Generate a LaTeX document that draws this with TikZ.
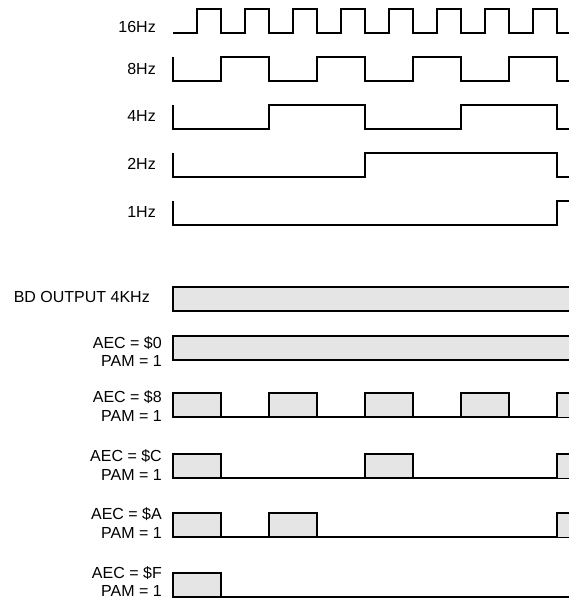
\documentclass[tikz,border=0pt]{standalone}
\usepackage{fontspec}
\setmainfont{Liberation Sans}
\definecolor{pulsefill}{RGB}{229,229,229}
\begin{document}
\begin{tikzpicture}[x=1pt,y=-1pt,
  wave/.style={line width=1.6pt,black,line join=miter},
  pulse/.style={line width=1.6pt,black,fill=pulsefill},
  sig/.style={inner sep=0pt,anchor=east,font=\fontsize{16}{18.5}\selectfont},
  cond/.style={inner sep=0pt,anchor=east,align=right,font=\fontsize{16}{18.5}\selectfont}]
\useasboundingbox (0,0) rectangle (569,600);
\begin{scope}
\clip (0,0) rectangle (569,600);
% ---- clock signals ----
\node[sig] (l16) at (156,26.5) {16Hz};
\node[sig] (l8) at (156,69) {8Hz};
\node[sig] (l4) at (156,116) {4Hz};
\node[sig] (l2) at (156,164) {2Hz};
\node[sig] (l1) at (156,212) {1Hz};
\draw[wave] (173,33) foreach \i in {1,...,8} { -- ++(24,0) -- ++(0,-24) -- ++(24,0) -- ++(0,24) } -- (570,33);
\draw[wave] (173,57) -- (173,81) foreach \i in {1,...,4} { -- ++(48,0) -- ++(0,-24) -- ++(48,0) -- ++(0,24) } -- (570,81);
\draw[wave] (173,105) -- (173,129) foreach \i in {1,2} { -- ++(96,0) -- ++(0,-24) -- ++(96,0) -- ++(0,24) } -- (570,129);
\draw[wave] (173,153) -- (173,177) -- ++(192,0) -- ++(0,-24) -- ++(192,0) -- ++(0,24) -- (570,177);
\draw[wave] (173,201) -- (173,225) -- (557,225) -- (557,201) -- (570,201);
% ---- BD output ----
\node[sig] (lbd) at (150,297) {BD OUTPUT 4KHz};
\fill[pulsefill] (173,287) rectangle (572,311);
\draw[wave] (572,287) -- (173,287) -- (173,311) -- (572,311);
% ---- AEC = $0 ----
\node[cond] (l0) at (162,351.5) {AEC = \$0\\PAM = 1};
\fill[pulsefill] (173,336) rectangle (572,360);
\draw[wave] (572,336) -- (173,336) -- (173,360) -- (572,360);
% ---- AEC = $8 ----
\node[cond] (l8a) at (162,406) {AEC = \$8\\PAM = 1};
\draw[wave] (173,417) -- (572,417);
\foreach \x in {173,269,365,461} \draw[pulse] (\x,417) rectangle ++(48,-24);
\fill[pulsefill] (557,393) rectangle (572,417);
\draw[wave] (572,393) -- (557,393) -- (557,417);
% ---- AEC = $C ----
\node[cond] (lCa) at (162,465) {AEC = \$C\\PAM = 1};
\draw[wave] (173,478) -- (572,478);
\foreach \x in {173,365} \draw[pulse] (\x,478) rectangle ++(48,-24);
\fill[pulsefill] (557,454) rectangle (572,478);
\draw[wave] (572,454) -- (557,454) -- (557,478);
% ---- AEC = $A ----
\node[cond] (lAa) at (162,523) {AEC = \$A\\PAM = 1};
\draw[wave] (173,537) -- (572,537);
\foreach \x in {173,269} \draw[pulse] (\x,537) rectangle ++(48,-24);
\fill[pulsefill] (557,513) rectangle (572,537);
\draw[wave] (572,513) -- (557,513) -- (557,537);
% ---- AEC = $F ----
\node[cond] (lFa) at (162,581.5) {AEC = \$F\\PAM = 1};
\draw[wave] (173,597) -- (572,597);
\draw[pulse] (173,597) rectangle ++(48,-24);
\end{scope}
\end{tikzpicture}
\end{document}
